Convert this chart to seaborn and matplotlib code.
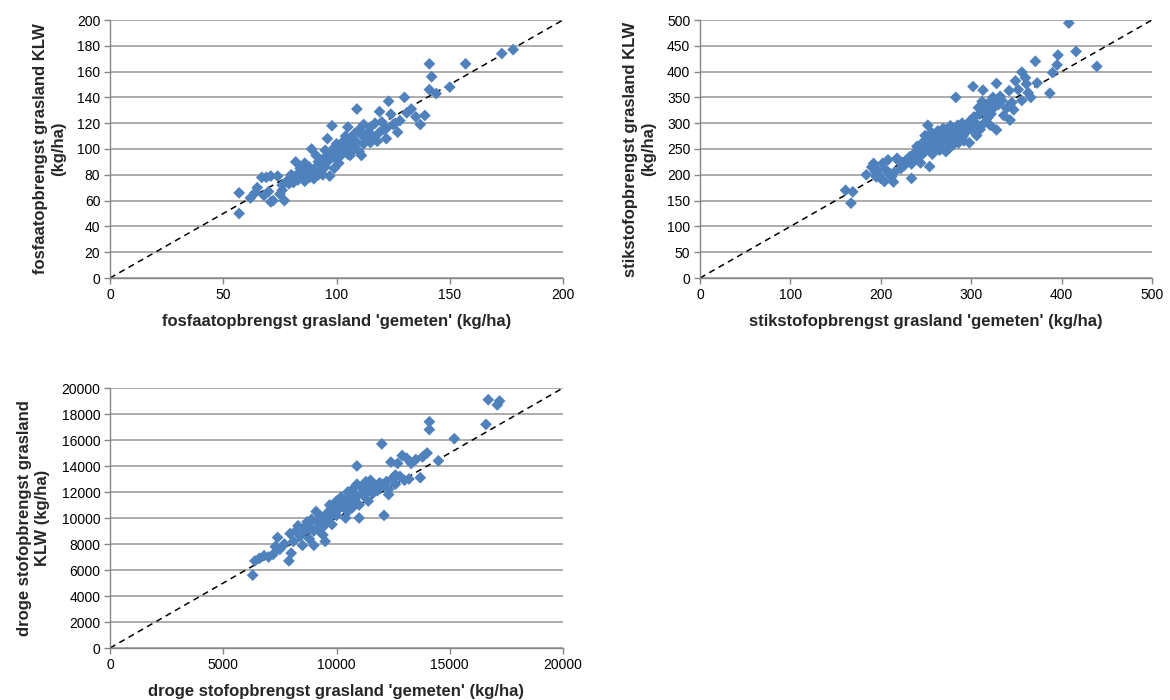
import matplotlib
matplotlib.use("Agg")
import matplotlib.pyplot as plt
import numpy as np
import pandas as pd
import seaborn as sns

# Phosphate yield grassland (kg/ha): measured vs KLW
fosfaat_gemeten = [57, 57, 62, 64, 65, 67, 68, 69, 70, 71, 71, 72, 74, 75, 76, 76, 77, 78, 79, 80,
                   80, 81, 82, 82, 83, 83, 84, 84, 85, 85, 86, 86, 87, 87, 88, 88, 89, 89, 90, 90,
                   91, 91, 92, 92, 93, 93, 94, 94, 95, 95, 96, 96, 97, 97, 98, 98, 99, 99, 100, 100,
                   101, 101, 102, 102, 103, 104, 104, 105, 105, 106, 106, 107, 108, 108, 109, 109, 110, 110, 111, 111,
                   112, 112, 113, 114, 115, 115, 116, 117, 118, 119, 119, 120, 121, 122, 122, 123, 124, 125, 126, 127,
                   128, 130, 131, 133, 135, 137, 139, 141, 142, 141, 144, 150, 157, 173, 178]
fosfaat_klw = [66, 50, 62, 66, 70, 78, 64, 78, 67, 79, 59, 60, 79, 65, 72, 68, 60, 75, 73, 77,
               80, 74, 78, 90, 76, 81, 79, 85, 77, 82, 89, 75, 80, 84, 78, 86, 100, 81, 83, 77,
               95, 86, 80, 90, 84, 88, 92, 80, 99, 86, 108, 90, 79, 94, 118, 97, 85, 101, 92, 104,
               89, 98, 102, 95, 106, 100, 110, 117, 96, 95, 103, 108, 112, 100, 131, 105, 115, 98, 111, 95,
               119, 104, 108, 113, 105, 117, 110, 120, 106, 129, 113, 121, 115, 116, 108, 137, 127, 119, 120, 113,
               122, 140, 128, 131, 125, 119, 126, 166, 156, 146, 143, 148, 166, 174, 177]

# Nitrogen yield grassland (kg/ha): measured vs KLW
stikstof_gemeten = [161, 167, 169, 184, 190, 192, 194, 195, 196, 198, 200, 202, 204, 206, 208, 210, 212, 214, 215, 218,
                    220, 222, 224, 226, 228, 230, 232, 234, 234, 236, 238, 240, 242, 244, 245, 246, 248, 249, 250, 251,
                    252, 253, 254, 255, 256, 257, 258, 259, 260, 261, 262, 263, 264, 265, 266, 267, 268, 269, 270, 271,
                    272, 273, 274, 275, 276, 277, 278, 279, 280, 282, 283, 284, 285, 286, 288, 290, 291, 292, 294, 296,
                    298, 299, 300, 302, 303, 304, 305, 306, 308, 309, 310, 312, 313, 314, 315, 316, 318, 320, 321, 322,
                    324, 325, 327, 328, 328, 330, 332, 334, 336, 339, 342, 343, 345, 347, 349, 352, 356, 356, 360, 361,
                    363, 366, 371, 373, 387, 390, 395, 396, 408, 416, 439]
stikstof_klw = [170, 145, 167, 200, 215, 222, 206, 196, 210, 200, 193, 222, 187, 209, 229, 200, 196, 186, 205, 232,
                226, 212, 224, 218, 228, 230, 235, 193, 221, 240, 232, 255, 248, 223, 238, 262, 244, 276, 256, 270,
                296, 250, 216, 262, 282, 240, 272, 250, 265, 278, 258, 285, 270, 248, 276, 251, 262, 290, 270, 282,
                245, 266, 288, 274, 252, 295, 265, 280, 258, 270, 350, 286, 296, 262, 280, 300, 275, 266, 292, 286,
                262, 305, 296, 371, 312, 282, 300, 276, 330, 318, 288, 342, 364, 300, 325, 336, 310, 340, 296, 318,
                350, 330, 342, 377, 287, 336, 352, 344, 315, 329, 363, 306, 340, 326, 382, 365, 399, 344, 388, 376,
                359, 350, 420, 378, 358, 398, 413, 432, 494, 439, 410]

# Dry matter yield grassland (kg/ha): measured vs KLW
droge_stof_gemeten = [6300, 6400, 6600, 6800, 7000, 7200, 7300, 7400, 7500, 7700, 7900, 8000, 7950, 8100, 8200, 8300,
                      8400, 8500, 8600, 8700, 8800, 8900, 9000, 9000, 9100, 9200, 9300, 9400, 9500, 9500, 9600, 9700,
                      9800, 9900, 10000, 10000, 10100, 10200, 10300, 10400, 10400, 10500, 10500, 10600, 10700, 10700,
                      10800, 10900, 10900, 11000, 11000, 11100, 11200, 11300, 11400, 11500, 11500, 11600, 11700, 11800,
                      11900, 12000, 12100, 12100, 12200, 12300, 12400, 12500, 12600, 12700, 12800, 12900, 13000, 13100,
                      13200, 13300, 13500, 13700, 13800, 14000, 14100, 14100, 14500, 15200, 16600, 16700, 17100, 17200,
                      8900, 9200, 9600, 9900, 10200, 10600, 10800, 11200, 11600, 12000, 8600, 9400, 9800, 10300,
                      10500, 10900, 11300, 11800, 12300, 12600]
droge_stof_klw = [5600, 6700, 6900, 7100, 7000, 7200, 7800, 8500, 7600, 8000, 6700, 7300, 8800, 8200, 9000, 9400,
                  8600, 7900, 9300, 9700, 8400, 9900, 9000, 7900, 10500, 9600, 10100, 8700, 9800, 8200, 10400, 11000,
                  9500, 10600, 10200, 11300, 10700, 11600, 10900, 10000, 11300, 12000, 10500, 11500, 12200, 10800,
                  11800, 12600, 14000, 11000, 10000, 12400, 11700, 12800, 11300, 12300, 12900, 11900, 12500, 12100,
                  12700, 15700, 10200, 12500, 12800, 11800, 14300, 13100, 12600, 14200, 13200, 14800, 12900, 14600,
                  13000, 14200, 14500, 13100, 14700, 15000, 17400, 16800, 14400, 16100, 17200, 19100, 18700, 19000,
                  9200, 9100, 10000, 10300, 10900, 11800, 11400, 12100, 12300, 12600, 9000, 9300, 10800, 11000,
                  11200, 11700, 12000, 12400, 12200, 13300]

PANELS = [
    (fosfaat_gemeten, fosfaat_klw, 200, 50, 20,
     "fosfaatopbrengst grasland 'gemeten' (kg/ha)", "fosfaatopbrengst grasland KLW\n(kg/ha)"),
    (stikstof_gemeten, stikstof_klw, 500, 100, 50,
     "stikstofopbrengst grasland 'gemeten' (kg/ha)", "stikstofopbrengst grasland KLW\n(kg/ha)"),
    (droge_stof_gemeten, droge_stof_klw, 20000, 5000, 2000,
     "droge stofopbrengst grasland 'gemeten' (kg/ha)", "droge stofopbrengst grasland\nKLW (kg/ha)"),
]

sns.set_style("white")
plt.rcParams["font.family"] = ["Liberation Sans", "DejaVu Sans"]

MARKER_COLOR = "#4F81BD"
GRID_COLOR = "#A6A6A6"
AXIS_COLOR = "#868686"

fig = plt.figure(figsize=(11.7, 7.0), dpi=100)
rects = [
    [110 / 1170, 1 - 278 / 700, 453 / 1170, 258 / 700],
    [700 / 1170, 1 - 278 / 700, 452 / 1170, 258 / 700],
    [110 / 1170, 1 - 648 / 700, 453 / 1170, 260 / 700],
]

for rect, (xs, ys, vmax, xstep, ystep, xlabel, ylabel) in zip(rects, PANELS):
    ax = fig.add_axes(rect)
    df = pd.DataFrame({"gemeten": xs, "klw": ys})
    ax.set_xlim(0, vmax)
    ax.set_ylim(0, vmax)
    ax.set_xticks(np.arange(0, vmax + 1, xstep))
    ax.set_yticks(np.arange(0, vmax + 1, ystep))
    ax.yaxis.grid(True, color=GRID_COLOR, linewidth=1.3)
    ax.xaxis.grid(False)
    ax.set_axisbelow(True)
    # 1:1 reference line
    ax.plot([0, vmax], [0, vmax], color="black", linestyle=(0, (4, 3)), linewidth=1.1, zorder=2)
    sns.scatterplot(data=df, x="gemeten", y="klw", ax=ax, marker="D", s=36,
                    color=MARKER_COLOR, edgecolor="none", linewidth=0, zorder=3)
    for side in ("top", "right"):
        ax.spines[side].set_visible(False)
    for side in ("left", "bottom"):
        ax.spines[side].set_color(AXIS_COLOR)
        ax.spines[side].set_linewidth(1.0)
    ax.tick_params(axis="both", which="major", direction="out", length=4, width=1,
                   color=AXIS_COLOR, labelsize=10, labelcolor="black", pad=3,
                   left=True, bottom=True)
    ax.set_xlabel(xlabel, fontsize=12, fontweight="bold", labelpad=9)
    ax.set_ylabel(ylabel, fontsize=12, fontweight="bold", labelpad=8, linespacing=1.25)

fig.savefig("out.png", dpi=100)
